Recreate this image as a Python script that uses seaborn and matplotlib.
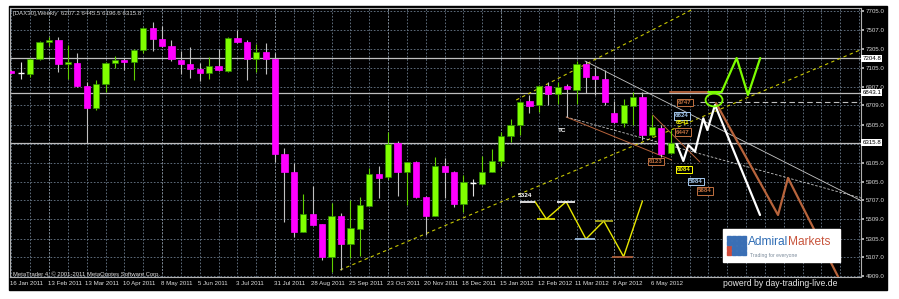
import matplotlib
matplotlib.use("Agg")
import matplotlib.pyplot as plt
from matplotlib.patches import Rectangle, Ellipse
import numpy as np
import pandas as pd
import seaborn as sns

# ---------------- data ----------------
first_week = "2011-01-16"
opens  = [7070, 7050, 7036, 7197, 7379, 7394, 7148, 7151, 6912, 6678,
          6930, 7151, 7186, 7162, 7292, 7520, 7404, 7330, 7186, 7141,
          7091, 7046, 7123, 7073, 7415, 7373, 7197, 7267, 7197, 6193,
          6004, 5380, 5561, 5456, 5112, 5540, 5249, 5407, 5652, 5983,
          5949, 6309, 6004, 6109, 5747, 5547, 6075, 6004, 5665, 5888,
          5877, 6010, 6123, 6389, 6499, 6755, 6712, 6916, 6828, 6912,
          6870, 7141, 7018, 6983, 6628, 6528, 6704, 6800, 6401, 6475,
          6207.2]
highs  = [7080, 7162, 7204, 7386, 7428, 7428, 7349, 7257, 6951, 6976,
          7168, 7231, 7204, 7302, 7537, 7589, 7544, 7397, 7281, 7328,
          7155, 7221, 7297, 7432, 7507, 7397, 7355, 7370, 7265, 6256,
          6098, 5772, 5863, 5460, 5677, 5572, 5712, 5747, 6046, 6075,
          6423, 6330, 6115, 6123, 5757, 6163, 6154, 6017, 5970, 5928,
          6173, 6247, 6423, 6563, 6755, 6818, 6923, 6958, 6951, 6933,
          7176, 7176, 7112, 7081, 6755, 6775, 6852, 6852, 6607, 6502,
          6445.5]
lows   = [7035, 6986, 7010, 7186, 7337, 7063, 6986, 6905, 6317, 6660,
          6846, 7099, 7081, 6976, 7257, 7281, 7326, 7176, 7044, 7002,
          6970, 6989, 7070, 7057, 7368, 6976, 7060, 7039, 6107, 5483,
          5325, 5375, 5444, 5080, 4957, 4975, 5101, 5122, 5646, 5736,
          5933, 5754, 5659, 5730, 5343, 5542, 5733, 5641, 5589, 5754,
          5872, 6005, 6072, 6326, 6401, 6633, 6639, 6712, 6723, 6589,
          6720, 6839, 6818, 6712, 6525, 6484, 6502, 6344, 6378, 6168,
          6196.6]
closes = [7046, 7050, 7197, 7379, 7400, 7141, 7155, 6912, 6678, 6933,
          7155, 7186, 7162, 7292, 7520, 7404, 7330, 7194, 7141, 7091,
          7046, 7123, 7076, 7415, 7373, 7200, 7267, 7194, 6193, 6007,
          5380, 5561, 5449, 5112, 5543, 5252, 5414, 5659, 5983, 5947,
          6299, 6004, 6109, 5747, 5547, 6075, 6004, 5667, 5898, 5888,
          6010, 6123, 6389, 6502, 6747, 6705, 6916, 6833, 6905, 6881,
          7142, 7010, 6983, 6739, 6530, 6712, 6800, 6401, 6478, 6194,
          6315.8]

price_ticks = [7705, 7507, 7305, 7105, 6907, 6709, 6505, 6305, 6105,
               5905, 5707, 5509, 5305, 5107, 4909]
level_lines = [7204.8, 6843.1, 6315.8]
level_labels = ["7204.8", "6843.1", "6315.8"]

# drawn objects: x = week index, y = price
up_low_x, up_low_y = [34.9, 90.3], [4975, 7300]          # yellow dashed support
up_high_x, up_high_y = [53.6, 73.3], [6765, 7770]        # yellow dashed upper
grayA_x, grayA_y = [60.9, 90.3], [7176, 5700]            # thin gray line
grayC_x, grayC_y = [58.9, 90.3], [6586, 5730]            # thin gray dashed
brownB_x, brownB_y = [58.9, 70.1], [6586, 6133]
brownD_x, brownD_y = [68.1, 73.1], [6607, 6112]
dash_level_x, dash_level_y = [73.1, 90.3], [6747, 6747]
brown_flat_x, brown_flat_y = [69.9, 74.0], [6850, 6850]

green_fc_x = [74.0, 75.4, 77.0, 78.2, 79.5]
green_fc_y = [6849, 6849, 7207, 6818, 7207]
white_fc_x = [70.64, 71.34, 71.87, 72.58, 73.46, 73.89, 74.70, 79.48]
white_fc_y = [6299, 6123, 6291, 6221, 6572, 6449, 6712, 5554]
brown_fc_x = [74.81, 81.39, 82.45, 88.3]
brown_fc_y = [6733, 5554, 5944, 4800]

yel_x = [55.6, 56.8, 58.9, 61.0, 62.9, 65.0, 67.0]
yel_y = [5694, 5512, 5694, 5301, 5491, 5115, 5702]
seg_x0 = [54.0, 55.8, 57.9, 59.8, 61.96, 63.8]
seg_x1 = [55.6, 57.7, 59.8, 61.96, 63.9, 66.0]
seg_y = [5694, 5512, 5694, 5301, 5491, 5115]
seg_col = ["#FFFFFF", "#E8E800", "#FFFFFF", "#A6CAF0", "#B8B820", "#B8643C"]

box_text = ["6747", "6624", "6541", "6447", "6123", "6084", "5984", "5884"]
box_x = [71.5, 71.2, 71.3, 71.3, 68.4, 71.4, 72.7, 73.6]
box_y = [6737, 6597, 6533, 6428, 6117, 6031, 5909, 5809]
box_col = ["#C0703F", "#A6CAF0", "#FFFF00", "#C0703F", "#C0703F", "#FFFF00", "#A6CAF0", "#C0703F"]
box_frame = [True, True, False, True, True, True, True, True]

# ---------------- figure ----------------
sns.set_theme(style="dark")
plt.rcParams['font.family'] = ['Liberation Sans Narrow', 'Liberation Sans', 'DejaVu Sans']

W, H = 899, 299
fig = plt.figure(figsize=(W / 100, H / 100), dpi=100, facecolor="white")
fig.patches.append(Rectangle((9 / W, 1 - 290 / H), (887 - 9) / W, (290 - 6) / H,
                             transform=fig.transFigure, color="black", zorder=-10))
ax = fig.add_axes([10 / W, 1 - 277 / H, 851 / W, 269 / H])
ax.set_facecolor("black")
ax.set_xlim(-0.14, 90.2)
ax.set_ylim(4901, 7734)

# grid
ax.set_xticks(np.arange(0, 91, 2))
ax.set_xticklabels([])
ax.set_yticks(price_ticks)
ax.set_yticklabels(["" if v == 6305 else f"{v:.1f}" for v in price_ticks])
ax.yaxis.tick_right()
ax.tick_params(axis="x", length=0)
ax.tick_params(axis="y", length=2, color="#C0C0C0", labelcolor="#D8D8D8",
               labelsize=4.4, pad=1.5, direction="out")
ax.grid(True, color="#6B7B8C", linestyle=(0, (2, 2)), linewidth=0.6)
ax.set_axisbelow(True)
for k in [4, 16, 28, 40, 52, 64]:
    ax.axvline(k, color="#D0D0D0", linestyle=(0, (2, 2)), linewidth=0.6, zorder=0.5)
for s in ax.spines.values():
    s.set_color("#B0B0B0")
    s.set_linewidth(0.8)

# level lines
for v in level_lines:
    ax.axhline(v, color="#BEBEBE", linewidth=0.9, zorder=1)

# trend lines
ax.plot(up_low_x, up_low_y, color="#C8C800", ls=(0, (3, 3)), lw=0.8, zorder=1.5)
ax.plot(up_high_x, up_high_y, color="#C8C800", ls=(0, (3, 3)), lw=0.8, zorder=1.5)
ax.plot(grayA_x, grayA_y, color="#C8C8C8", lw=0.6, zorder=1.5)
ax.plot(grayC_x, grayC_y, color="#C8C8C8", ls=(0, (3, 2)), lw=0.6, zorder=1.5)
ax.plot(brownB_x, brownB_y, color="#B8643C", lw=0.7, zorder=1.5)
ax.plot(brownD_x, brownD_y, color="#B8643C", lw=0.7, zorder=1.5)
ax.plot(dash_level_x, dash_level_y, color="#BEBEBE", ls=(0, (5, 3)), lw=0.8, zorder=1.5)

# candles
df = pd.DataFrame(dict(o=opens, h=highs, l=lows, c=closes))
df["i"] = np.arange(len(df))
df["week"] = pd.date_range(first_week, periods=len(df), freq="7D")
bw = 0.66
for r in df.itertuples():
    if r.c > r.o:
        col, wick, edge = "#80FF00", "#60D000", "#2E8B00"
    elif r.c < r.o:
        col, wick, edge = "#FF00FF", "#C0C0C0", "#FF00FF"
    else:
        col, wick, edge = None, "#E0E0E0", None
    ax.vlines(r.i, r.l, r.h, color=wick, lw=0.8, zorder=2)
    if col is None:
        ax.hlines(r.o, r.i - bw / 2, r.i + bw / 2, color="white", lw=1.0, zorder=3)
    else:
        lo, hi = min(r.o, r.c), max(r.o, r.c)
        hgt = max(hi - lo, 16)
        ax.bar(r.i, hgt, bottom=lo, width=bw, color=col, edgecolor=edge,
               linewidth=0.5, zorder=3)

# lower yellow zig-zag
sns.lineplot(x=yel_x, y=yel_y, sort=False, color="#E8E800", lw=1.0, ax=ax, zorder=4)
for x0, x1, y, c in zip(seg_x0, seg_x1, seg_y, seg_col):
    ax.hlines(y, x0, x1, color=c, lw=1.2, zorder=4)
ax.text(54.5, 5760, "5324", color="white", fontsize=4.6, fontweight="bold",
        ha="center", va="center", zorder=5)
ax.text(58.5, 6449, "TC", color="white", fontsize=4.6, fontweight="bold",
        ha="center", va="center", zorder=5)

# forecast paths
ax.plot(brown_flat_x, brown_flat_y, color="#B8643C", lw=1.3, zorder=4)
sns.lineplot(x=brown_fc_x, y=brown_fc_y, sort=False, color="#B8643C", lw=1.6, ax=ax, zorder=4)
sns.lineplot(x=white_fc_x, y=white_fc_y, sort=False, color="white", lw=1.6, ax=ax, zorder=5)
sns.lineplot(x=green_fc_x, y=green_fc_y, sort=False, color="#7CFC00", lw=1.6, ax=ax, zorder=5)
ax.add_patch(Ellipse((74.6, 6765), 1.8, 135, fill=False, edgecolor="#7CFC00", lw=1.3, zorder=6))

for t, x, y, c, fr in zip(box_text, box_x, box_y, box_col, box_frame):
    bb = dict(boxstyle="square,pad=0.2", fc="black", ec=c, lw=0.7) if fr else None
    ax.text(x, y, t, color=c, fontsize=4.4, fontweight="bold", ha="center",
            va="center", bbox=bb, zorder=7)

# right-axis value boxes
for v, t in zip(level_lines, level_labels):
    ax.text(1.0015, v, t, transform=ax.get_yaxis_transform(), color="black",
            fontsize=4.4, ha="left", va="center", zorder=8, clip_on=False,
            bbox=dict(boxstyle="square,pad=0.15", fc="white", ec="none"))

# date labels
for r in df.itertuples():
    if r.i % 4 == 0:
        lab = f"{r.week.day} {r.week.strftime('%b %Y')}"
        ax.text(r.i - 0.14, -0.024, lab, transform=ax.get_xaxis_transform(),
                color="#E0E0E0", fontsize=4.4, ha="left", va="center", clip_on=False)

# texts
ax.text(0.004, 0.981, "[DAX30],Weekly  6207.2 6445.5 6196.6 6315.8",
        transform=ax.transAxes, color="#D0D0D0", fontsize=4.4, ha="left", va="center")
ax.text(0.003, 0.012, "MetaTrader 4, \u00a9 2001-2011 MetaQuotes Software Corp.",
        transform=ax.transAxes, color="#E0E0E0", fontsize=4.2, ha="left", va="center")
fig.text(723 / W, 1 - 283 / H, "powerd by day-trading-live.de", color="#E8E8E8",
         fontsize=6.2, family=["Liberation Sans", "DejaVu Sans"], ha="left", va="center")

# logo
fig.patches.append(Rectangle((723 / W, 1 - 262 / H), 117 / W, 33 / H,
                             transform=fig.transFigure, color="white", zorder=20))
for gx in range(4):
    for gy in range(4):
        c = "#D04A3A" if (gx == 0 and gy < 2) else "#3A6FB5"
        fig.patches.append(Rectangle(((727 + gx * 5) / W, 1 - (255 - gy * 5) / H), 4 / W, 4 / H,
                                     transform=fig.transFigure, color=c, zorder=21))
t1 = fig.text(748 / W, 1 - 242 / H, "Admiral", color="#2F6DB5", fontsize=8.6,
              family=["Liberation Sans", "DejaVu Sans"], ha="left", va="center", zorder=22)
fig.canvas.draw()
bb1 = t1.get_window_extent()
fig.text(bb1.x1 / W, 1 - 242 / H, "Markets", color="#C8553D", fontsize=8.6,
         family=["Liberation Sans", "DejaVu Sans"], ha="left", va="center", zorder=22)
fig.text(750 / W, 1 - 255 / H, "Trading for everyone", color="#7A8A9A", fontsize=3.6,
         family=["Liberation Sans", "DejaVu Sans"], ha="left", va="center", zorder=22)

fig.savefig("out.png", dpi=100, facecolor="white")
